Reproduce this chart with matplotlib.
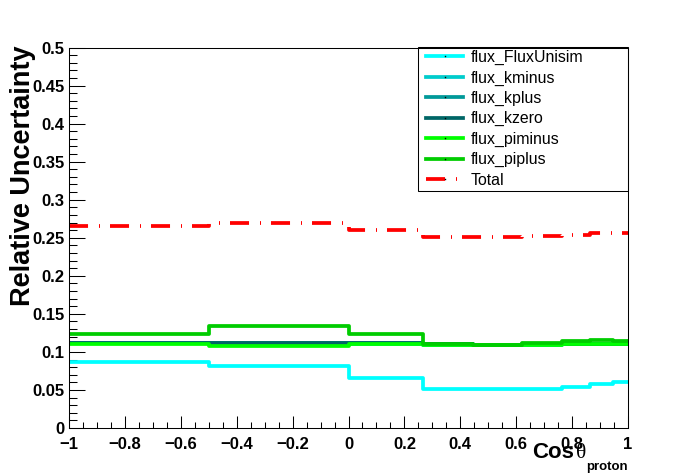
import numpy as np
import matplotlib
matplotlib.use("Agg")
import matplotlib.pyplot as plt
from matplotlib.lines import Line2D
from matplotlib.patches import Rectangle
from matplotlib.ticker import MultipleLocator

plt.rcParams['font.family'] = ['Liberation Sans', 'DejaVu Sans']
plt.rcParams['lines.scale_dashes'] = False
plt.rcParams['axes.unicode_minus'] = True

# ---------------- data ----------------
bin_edges = [-1.0, -0.5, 0.0, 0.265, 0.445, 0.62, 0.765, 0.865, 0.945, 1.0]
names = ["flux_FluxUnisim", "flux_kminus", "flux_kplus", "flux_kzero",
         "flux_piminus", "flux_piplus", "Total"]
flux_FluxUnisim = [0.0864, 0.0820, 0.0660, 0.0517, 0.0517, 0.0517, 0.0540, 0.0583, 0.0610]
flux_kminus = [0.1115, 0.1115, 0.1110, 0.1095, 0.1090, 0.1095, 0.1105, 0.1105, 0.1105]
flux_kplus = [0.1118, 0.1118, 0.1112, 0.1098, 0.1092, 0.1098, 0.1108, 0.1108, 0.1108]
flux_kzero = [0.1120, 0.1120, 0.1115, 0.1100, 0.1095, 0.1100, 0.1110, 0.1110, 0.1110]
flux_piminus = [0.1100, 0.1080, 0.1100, 0.1096, 0.1092, 0.1090, 0.1110, 0.1110, 0.1110]
flux_piplus = [0.1240, 0.1340, 0.1240, 0.1108, 0.1094, 0.1123, 0.1145, 0.1162, 0.1145]
total = [0.2660, 0.2690, 0.2605, 0.2512, 0.2512, 0.2520, 0.2540, 0.2557, 0.2557]
x_ticklabels = ["\u22121", "\u22120.8", "\u22120.6", "\u22120.4", "\u22120.2",
                "0", "0.2", "0.4", "0.6", "0.8", "1"]
y_ticklabels = ["0", "0.05", "0.1", "0.15", "0.2", "0.25", "0.3", "0.35", "0.4", "0.45", "0.5"]

series = [flux_FluxUnisim, flux_kminus, flux_kplus, flux_kzero, flux_piminus, flux_piplus, total]
colors = ["#00ffff", "#00cccc", "#009999", "#006666", "#00ff00", "#00cc00", "#ff0000"]

W, H = 698, 476
fig = plt.figure(figsize=(W / 100, H / 100), dpi=100)
L, R, T, B = 69, 628, 47.5, 428
ax = fig.add_axes([L / W, 1 - B / H, (R - L) / W, (B - T) / H])

lw = 2.7
dash = (0, (13.7, 7.9, 0.72, 7.2))
edges = np.array(bin_edges)
handles = []
for name, vals, c in zip(names, series, colors):
    yv = np.append(vals, vals[-1])
    ls = dash if name == "Total" else "-"
    ax.plot(edges, yv, drawstyle="steps-post", color=c, lw=lw, linestyle=ls,
            solid_capstyle="butt", dash_capstyle="butt")
    handles.append(Line2D([], [], color=c, lw=lw, linestyle=ls, marker="s",
                          markersize=1.0, markerfacecolor="black",
                          markeredgewidth=0, dash_capstyle="butt"))

ax.set_xlim(-1, 1)
ax.set_ylim(0, 0.5)
ax.set_xticks(np.linspace(-1, 1, 11))
ax.set_xticklabels(x_ticklabels)
ax.set_yticks(np.linspace(0, 0.5, 11))
ax.set_yticklabels(y_ticklabels)
ax.xaxis.set_minor_locator(MultipleLocator(0.05))
ax.yaxis.set_minor_locator(MultipleLocator(0.01))
ax.tick_params(axis="both", which="both", direction="in", top=False, right=False,
               width=0.75, color="black")
ax.tick_params(axis="x", which="major", length=8.9, pad=6.5)
ax.tick_params(axis="x", which="minor", length=4.3)
ax.tick_params(axis="y", which="major", length=11.5, pad=3)
ax.tick_params(axis="y", which="minor", length=5.8)
for lab in ax.get_xticklabels() + ax.get_yticklabels():
    lab.set_fontweight("bold")
    lab.set_fontsize(12)
for s in ax.spines.values():
    s.set_linewidth(0.75)
    s.set_zorder(7)

# axis titles
fig.text(30 / W, 1 - 45 / H, "Relative Uncertainty", rotation=90, rotation_mode="anchor",
         ha="right", va="baseline", fontsize=19.5, fontweight="bold")
fig.text(628 / W, 1 - 470 / H, "proton", ha="right", va="baseline",
         fontsize=9.5, fontweight="bold")
fig.text(586 / W, 1 - 458 / H, "\u03b8", ha="right", va="baseline",
         fontsize=15.5, family=["Liberation Serif", "DejaVu Serif"])
fig.text(574 / W, 1 - 458 / H, "Cos", ha="right", va="baseline",
         fontsize=16, fontweight="bold")

# legend frame and entries
ax.add_patch(Rectangle((418 / W, 1 - 190.7 / H), (628 - 418) / W, (190.7 - 47) / H,
                       transform=fig.transFigure, fill=True, facecolor="white",
                       edgecolor="black", lw=0.75, zorder=5, clip_on=False))
fs = 11.4
fs_px = fs / 0.72
leg = ax.legend(handles, names, loc="upper left",
                bbox_to_anchor=(426 / W, 1 - 50 / H), bbox_transform=fig.transFigure,
                frameon=False, borderpad=0, borderaxespad=0, labelspacing=0.335,
                handlelength=37 / fs_px, handletextpad=8 / fs_px,
                fontsize=fs, numpoints=1)
leg.set_zorder(6)

fig.savefig("out.png", dpi=100)
